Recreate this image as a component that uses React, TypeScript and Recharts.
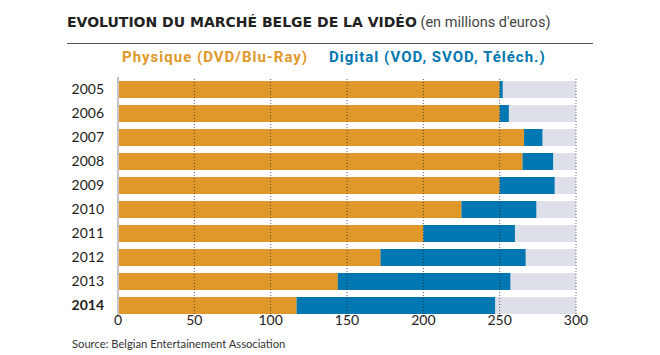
import { BarChart, Bar, XAxis, YAxis, ReferenceLine } from "recharts"

const years = ["2005", "2006", "2007", "2008", "2009", "2010", "2011", "2012", "2013", "2014"]
const physique = [250, 250, 266, 265, 250, 225, 200, 172, 144, 117]
const digital = [2, 6, 12, 20, 36, 49, 60, 95, 113, 130]
const xTicks = [0, 50, 100, 150, 200, 250, 300]

const ORANGE = "#e0982a"
const BLUE = "#0077b0"
const GREY = "#dde0e8"

const data = years.map((y, i) => ({ year: y, physique: physique[i], digital: digital[i] }))

const YearTick = (props: any) => {
  const { x, y, payload } = props
  const bold = payload.value === "2014"
  return (
    <text
      x={x}
      y={y}
      dy={5}
      textAnchor="end"
      fill="#222"
      fontSize={14}
      fontFamily="Lato, sans-serif"
      fontWeight={bold ? 700 : 400}
    >
      {payload.value}
    </text>
  )
}

export default function App() {
  return (
    <div style={{ position: "absolute", left: 0, top: 0, width: 660, height: 355, background: "#fff", fontFamily: "Roboto, sans-serif" }}>
      <div style={{ position: "absolute", left: 67, top: 12, whiteSpace: "nowrap", color: "#222" }}>
        <span style={{ fontWeight: 700, fontSize: 14, fontFamily: "'DejaVu Sans', sans-serif" }}>EVOLUTION DU MARCHÉ BELGE DE LA VIDÉO</span>
        <span style={{ fontWeight: 400, fontSize: 14.5, color: "#444" }}> (en millions d'euros)</span>
      </div>
      <div style={{ position: "absolute", left: 67, top: 43, width: 526, height: 1, background: "#555" }} />
      <div style={{ position: "absolute", left: 122, top: 48, fontSize: 15, fontWeight: 700, letterSpacing: 1, color: ORANGE, whiteSpace: "nowrap" }}>
        Physique (DVD/Blu-Ray)
      </div>
      <div style={{ position: "absolute", left: 329, top: 48, fontSize: 15, fontWeight: 700, letterSpacing: 1, color: BLUE, whiteSpace: "nowrap" }}>
        Digital (VOD, SVOD, Téléch.)
      </div>

      <div style={{ position: "absolute", left: 0, top: 0 }}>
        <BarChart
          width={660}
          height={355}
          data={data}
          layout="vertical"
          barSize={17}
          margin={{ top: 77, right: 84, bottom: 18, left: 68 }}
        >
          <XAxis
            type="number"
            domain={[0, 300]}
            ticks={xTicks}
            axisLine={false}
            tickLine={false}
            tickSize={0}
            tickMargin={0}
            height={20}
            tick={{ fill: "#222", fontSize: 14, fontFamily: "Lato, sans-serif", dy: -2 }}
          />
          <YAxis
            type="category"
            dataKey="year"
            width={50}
            tickLine={false}
            axisLine={{ stroke: "#c4c4c4", strokeWidth: 2 }}
            tick={<YearTick />}
            tickMargin={8}
          />
          <Bar dataKey="physique" stackId="a" fill={ORANGE} background={{ fill: GREY }} isAnimationActive={false} />
          <Bar dataKey="digital" stackId="a" fill={BLUE} isAnimationActive={false} />
          {xTicks.slice(1).map((t) => (
            <ReferenceLine key={t} x={t} stroke="#222" strokeOpacity={0.7} strokeDasharray="1 2" />
          ))}
        </BarChart>
      </div>

      <div style={{ position: "absolute", left: 72, top: 337, fontSize: 11.2, color: "#333", fontFamily: "Lato, sans-serif", whiteSpace: "nowrap" }}>
        Source: Belgian Entertainement Association
      </div>
    </div>
  )
}
